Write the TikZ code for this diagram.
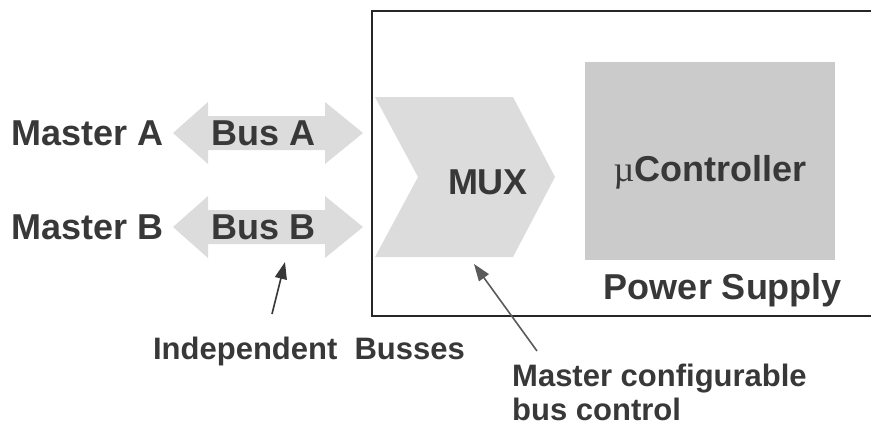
\documentclass[tikz,border=0pt]{standalone}
\usepackage{fontspec}
\setmainfont{Liberation Sans}
\newfontfamily\muserif{Liberation Serif}
\usetikzlibrary{arrows.meta}
\definecolor{txtgray}{HTML}{383838}
\definecolor{lightfill}{HTML}{DCDCDC}
\definecolor{ctrlfill}{HTML}{CBCBCB}
\definecolor{anngray}{HTML}{5A5A5A}
\tikzset{
  bigtext/.style={font=\bfseries\fontsize{36}{40}\selectfont, text=txtgray, inner sep=0pt},
  anntext/.style={font=\bfseries\fontsize{31}{34}\selectfont, text=txtgray, inner sep=0pt, align=left},
  busshape/.style={fill=lightfill, draw=none},
  annarrow/.style={draw=anngray, line width=1.6pt, -{Triangle[length=17pt,width=12pt]}},
}
\begin{document}
\begin{tikzpicture}[x=1pt,y=-1pt]
\useasboundingbox (0,0) rectangle (871,429);
% outer box (extends beyond the right edge)
\draw[line width=1.3pt, draw=black!85] (871,11) -- (372,11) -- (372,316) -- (871,316);
% Bus A double arrow
\fill[busshape] (173,133) -- (208,102) -- (208,116) -- (325,116) -- (325,102) -- (363,133)
  -- (325,164) -- (325,150) -- (208,150) -- (208,164) -- cycle;
% Bus B double arrow
\fill[busshape] (173,227) -- (208,196) -- (208,210) -- (325,210) -- (325,196) -- (363,227)
  -- (325,258) -- (325,244) -- (208,244) -- (208,258) -- cycle;
% MUX chevron
\fill[busshape] (375,97) -- (513,97) -- (555,177) -- (513,257) -- (375,257) -- (418,177) -- cycle;
% controller box
\node[fill=ctrlfill, minimum width=250pt, minimum height=198pt, inner sep=0pt] (ctrl) at (710,161) {};
% texts
\node[bigtext] (masterA) at (88,133) {Master A};
\node[bigtext] (masterB) at (88,227) {Master B};
\node[bigtext] (busA) at (264,133) {Bus A};
\node[bigtext] (busB) at (264,227) {Bus B};
\node[bigtext] (mux) at (488,182) {MUX};
\node[bigtext] (ctrltext) at (710,172) {{\muserif\mdseries µ}Controller};
\node[bigtext] (power) at (723,290) {Power Supply};
\node[anntext] (indep) at (309,351) {Independent\ \ Busses};
\node[anntext, anchor=north west] (mcfg) at (512,364) {Master configurable\\bus control};
% annotation arrows
\coordinate (t1) at (272,314);
\coordinate (h1) at (285,262);
\coordinate (t2) at (537,351);
\coordinate (h2) at (474,264);
\draw[annarrow, draw=txtgray] (t1) -- (h1);
\draw[annarrow] (t2) -- (h2);
\end{tikzpicture}
\end{document}
